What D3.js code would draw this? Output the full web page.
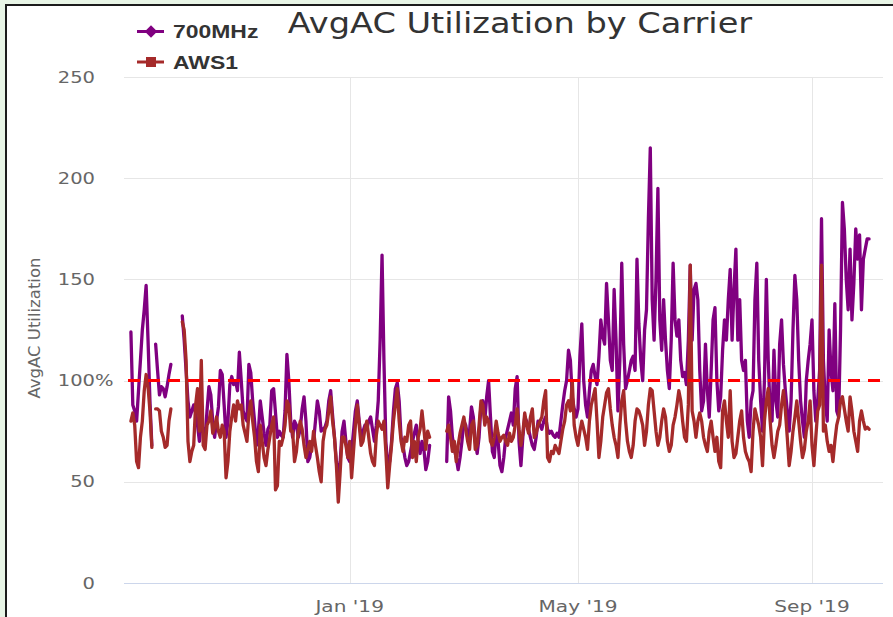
<!DOCTYPE html>
<html><head><meta charset="utf-8">
<script src="https://cdn.jsdelivr.net/npm/d3@7"></script>
<style>html,body{margin:0;padding:0;background:#fff;} svg{display:block;}</style>
</head><body>
<svg id="chart" width="893" height="617"></svg>
<script>
// ---------- DATA ----------
const chartTitle = "AvgAC Utilization by Carrier";
const yAxisTitle = "AvgAC Utilization";
const seriesNames = ["700MHz", "AWS1"];
const startDate = "2018-09-08";   // first daily sample
const yTicks = [0, 50, 100, 150, 200, 250];
const xTickDates = ["2019-01-01", "2019-05-01", "2019-09-01"];
const xTickLabels = ["Jan '19", "May '19", "Sep '19"];
const thresholdValue = 100;

// daily values, null = no data
const mhz700 = [
  124,88,85,80,95,110,125,135,147,120,90,68,
  null,
  118,105,93,97,96,92,97,103,108,
  null,null,null,null,null,
  132,120,105,90,82,85,88,84,78,70,80,75,72,85,97,93,80,72,80,87,105,103,88,72,80,98,102,98,100,95,114,100,85,
  82,
  80,108,104,90,80,68,75,90,82,74,68,76,78,95,96,84,72,75,73,72,85,113,100,80,72,80,78,72,76,86,92,80,60,62,68,
  70,80,90,85,75,76,77,80,90,95,83,72,60,52,60,75,80,70,62,60,65,75,85,90,80,72,75,78,76,80,82,76,70,78,90,120,162,110,70,58,60,70,85,96,99,90,72,68,62,58,60,65,70,74,78,70,64,70,66,56,60,68,
  null,null,null,null,null,null,null,null,
  60,92,85,72,66,62,56,62,70,80,78,72,75,87,82,70,64,72,88,90,80,92,100,82,65,62,76,70,58,55,
  62,72,76,80,84,78,96,102,70,58,72,82,80,76,72,68,66,72,80,78,76,80,82,76,74,75,73,72,74,72,80,88,95,100,115,110,92,86,82,86,112,128,100,88,82,95,105,108,102,98,112,130,122,118,148,130,110,105,145,120,85,110,158,118,96,100,
  105,
  110,112,105,160,128,110,100,125,135,180,215,140,120,150,195,130,115,140,120,105,96,120,158,130,122,130,110,102,104,98,
  120,157,120,145,148,140,105,85,90,118,95,82,105,130,136,100,85,92,115,130,120,140,155,120,145,165,120,140,110,105,110,80,72,90,95,140,158,110,90,75,100,150,110,85,80,115,90,82,118,130,108,95,85,75,90,125,152,140,110,90,80,72,100,110,118,130,95,80,90,105,180,110,90,80,125,105,95,138,85,82,125,188,175,150,135,165,130,148,175,160,172,135,160,165,170,170
];
const aws1 = [
  80,84,78,60,57,72,80,95,103,97,85,67,
  null,
  86,86,85,75,72,67,68,80,86,
  null,null,null,null,null,
  129,125,110,70,60,65,68,88,96,75,110,68,66,78,80,85,74,77,82,75,72,78,75,52,60,75,82,88,80,90,86,88,78,
  74,
  70,84,90,80,72,60,55,78,70,62,58,66,72,78,82,46,48,70,68,72,78,90,88,75,75,60,65,75,80,76,68,62,66,70,65,
  75,68,62,55,50,70,76,78,85,92,80,72,58,40,55,72,72,68,62,70,52,65,78,88,78,68,70,76,80,72,64,60,58,73,80,78,76,80,65,47,58,68,80,88,96,80,70,65,72,70,78,80,62,70,60,72,76,85,76,66,75,72,
  null,null,null,null,null,null,null,null,
  75,78,72,65,70,60,68,74,78,82,76,70,66,78,80,66,68,78,90,88,78,82,80,70,68,72,80,74,70,72,
  73,70,68,74,70,72,78,86,76,68,74,84,78,74,82,86,72,74,78,80,82,90,95,62,60,65,64,68,66,64,70,76,80,88,90,85,100,78,72,68,75,80,76,72,66,80,88,92,96,80,62,70,82,88,94,96,86,78,72,68,62,78,90,95,80,70,
  65,
  62,68,80,86,85,82,78,68,75,88,96,95,85,75,68,72,80,86,82,70,65,68,78,82,88,95,90,80,72,70,
  88,157,85,80,72,80,84,80,72,68,65,75,80,72,65,72,60,57,85,90,80,72,95,70,62,64,72,80,85,72,65,62,60,55,75,86,82,78,72,58,80,90,96,80,68,62,68,75,78,88,95,85,72,58,65,75,82,90,80,70,62,66,75,80,90,68,58,72,85,88,157,75,78,70,65,68,60,70,78,82,90,92,86,80,75,92,85,75,70,65,80,85,80,76,77,76
];

// ---------- LAYOUT / STYLE ----------
const W = 893, H = 617;
const plot = {left: 124, right: 883, top: 77, bottom: 583};
const colors = {p700: "#800080", aws: "#a52a2a", threshold: "#ff0000"};
const SX = 1.22; // horizontal text stretch seen in the reference

const svg = d3.select("#chart");

// frame
svg.append("rect").attr("width", W).attr("height", H).attr("fill", "#e8f5e6");
svg.append("rect").attr("x", 6).attr("y", 5).attr("width", W + 20).attr("height", H + 20)
  .attr("fill", "#ffffff").attr("stroke", "#1c1c1c").attr("stroke-width", 2);

const parse = d3.utcParse("%Y-%m-%d");
const t0 = parse(startDate);
const toRows = arr => arr.map((v, i) => ({date: d3.utcDay.offset(t0, i), v}));
const rows700 = toRows(mhz700), rowsAws = toRows(aws1);

const x = d3.scaleUtc()
  .domain([parse("2019-01-01"), parse("2019-09-01")])
  .range([349.7, 812]);
const y = d3.scaleLinear().domain([0, 250]).range([plot.bottom, plot.top]);

function sText(g, txt, px, py, opts) {
  const t = g.append("text")
    .attr("transform", `translate(${px},${py}) scale(${opts.sx || SX},1)` + (opts.rotate ? ` rotate(${opts.rotate})` : ""))
    .attr("text-anchor", opts.anchor || "start")
    .attr("font-family", opts.family || "DejaVu Sans")
    .attr("font-size", opts.size)
    .attr("font-weight", opts.weight || "normal")
    .attr("fill", opts.fill || "#666666")
    .text(txt);
  return t;
}

// grid
const grid = svg.append("g");
grid.selectAll("line.h").data(yTicks).join("line")
  .attr("x1", plot.left).attr("x2", plot.right)
  .attr("y1", d => Math.round(y(d)) + 0.5).attr("y2", d => Math.round(y(d)) + 0.5)
  .attr("stroke", "#e6e6e6").attr("stroke-width", 1);
grid.selectAll("line.v").data(xTickDates.map(parse)).join("line")
  .attr("x1", d => Math.round(x(d)) + 0.5).attr("x2", d => Math.round(x(d)) + 0.5)
  .attr("y1", plot.top).attr("y2", plot.bottom)
  .attr("stroke", "#e6e6e6").attr("stroke-width", 1);

// x axis line
svg.append("line").attr("x1", plot.left).attr("x2", plot.right)
  .attr("y1", plot.bottom + 0.5).attr("y2", plot.bottom + 0.5)
  .attr("stroke", "#ccd6eb").attr("stroke-width", 1);

// clip
svg.append("clipPath").attr("id", "clip").append("rect")
  .attr("x", plot.left).attr("y", plot.top - 5).attr("width", plot.right - plot.left).attr("height", plot.bottom - plot.top + 5);

const line = d3.line().defined(d => d.v != null).x(d => x(d.date)).y(d => y(d.v));
const series = svg.append("g").attr("clip-path", "url(#clip)");
series.append("path").datum(rows700).attr("d", line)
  .attr("fill", "none").attr("stroke", colors.p700).attr("stroke-width", 3.3)
  .attr("stroke-linejoin", "round").attr("stroke-linecap", "round");
series.append("path").datum(rowsAws).attr("d", line)
  .attr("fill", "none").attr("stroke", colors.aws).attr("stroke-width", 3.3)
  .attr("stroke-linejoin", "round").attr("stroke-linecap", "round");

// threshold line
svg.append("line").attr("x1", 128).attr("x2", 880)
  .attr("y1", y(thresholdValue)).attr("y2", y(thresholdValue))
  .attr("stroke", colors.threshold).attr("stroke-width", 3).attr("stroke-dasharray", "12,8");

// y labels
const yl = svg.append("g");
yTicks.forEach(v => {
  if (v === 100) {
    const tmp = sText(yl, "100", 95, y(v) + 5.5, {size: 16, anchor: "end"});
    const w = tmp.node().getComputedTextLength() * SX;
    tmp.remove();
    sText(yl, "100%", 95 - w, y(v) + 5.5, {size: 16, anchor: "start"});
  } else {
    sText(yl, String(v), 95, y(v) + 5.5, {size: 16, anchor: "end"});
  }
});

// x labels
xTickDates.forEach((d, i) => {
  sText(svg, xTickLabels[i], x(parse(d)), 612, {size: 16.5, anchor: "middle"});
});

// y axis title
sText(svg, yAxisTitle, 39.5, 328, {size: 16.5, anchor: "middle", rotate: -90, sx: 1.0});

// title
sText(svg, chartTitle, 520, 33, {size: 28, anchor: "middle", fill: "#333333", sx: 1.2});

// legend
const lg = svg.append("g");
[[seriesNames[0], colors.p700, 31.5, "diamond"], [seriesNames[1], colors.aws, 62, "square"]].forEach(([name, col, ly, shape]) => {
  lg.append("line").attr("x1", 137).attr("x2", 164).attr("y1", ly).attr("y2", ly)
    .attr("stroke", col).attr("stroke-width", 3);
  if (shape === "diamond") {
    lg.append("path").attr("d", d3.symbol(d3.symbolDiamond2, 100)()).attr("transform", `translate(151,${ly})`).attr("fill", col);
  } else {
    lg.append("rect").attr("x", 146).attr("y", ly - 5).attr("width", 10).attr("height", 10).attr("fill", col);
  }
  sText(lg, name, 173, ly + 6.5, {size: 18.5, weight: "bold", fill: "#333333", family: "Liberation Sans", sx: 1.24});
});
</script>
</body></html>
